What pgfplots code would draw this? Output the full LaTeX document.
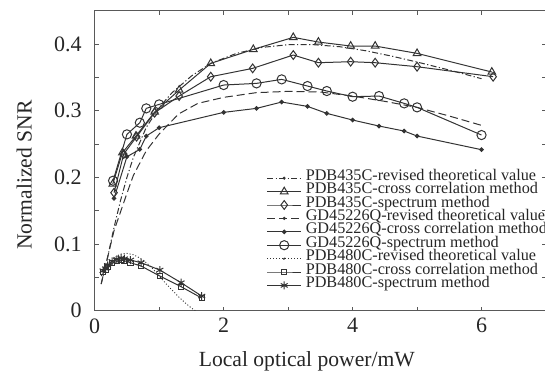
\documentclass[border=0pt]{standalone}
\usepackage{pgfplots}
\pgfplotsset{compat=1.18}
\usepackage{fontspec}
\setmainfont{Liberation Serif}
\definecolor{ln}{gray}{0.2}
\definecolor{ax}{gray}{0.35}
\pgfplotsset{theolegend/.style={legend image code/.code={\draw[##1] (0cm,0cm) -- (0.6cm,0cm); \fill[ln] (0.3cm,0cm) circle (0.5pt);}}}
\begin{document}
\begin{tikzpicture}
\begin{axis}[
  scale only axis, width=225.65pt, height=150pt,
  xmin=0, xmax=7, ymin=0, ymax=0.45,
  xtick={0,2,4,6}, minor xtick={1,3,5},
  ytick={0,0.1,0.2,0.3,0.4}, minor ytick={0.05,0.15,0.25,0.35},
  major tick length=2pt, minor tick length=2pt,
  tick style={ax, line width=0.5pt},
  every minor tick/.style={ax, line width=0.5pt},
  axis line style={ax, line width=0.6pt},
  /pgf/number format/assume math mode=true,
  yticklabel style={/pgf/number format/fixed, /pgf/number format/precision=1, inner sep=0pt, xshift=-6.35pt, anchor=east},
  xticklabel style={inner sep=0pt, yshift=-3.65pt, anchor=north},
  tick label style={font=\fontsize{11}{12}\selectfont, text=black!85},
  label style={font=\fontsize{10.8}{12}\selectfont, text=black!85},
  xlabel={Local optical power/mW},
  ylabel={Normalized SNR},
  xlabel style={at={(axis description cs:0.47,-0.1867)}, anchor=base, inner sep=0pt},
  ylabel style={at={(axis description cs:-0.1396,0.452)}, anchor=base, inner sep=0pt},
  legend style={at={(0.381,0.462)}, anchor=north west, draw=none, fill=none,
    inner sep=0pt, outer sep=0pt, row sep=0.6pt, column sep=2pt,
    font=\fontsize{8.1}{6}\selectfont, text=black!85,
    nodes={inner sep=0pt, text height=4.1pt, text depth=2pt}},
  legend cell align=left,
  every axis plot/.append style={line width=0.5pt, color=ln},
]
% PDB435C theory
\addplot[dash pattern=on 3pt off 1.2pt on 0.6pt off 1.2pt, no markers, theolegend] coordinates {
(0.1,0.04) (0.2,0.08) (0.3,0.125) (0.4,0.165) (0.5,0.20) (0.6,0.23) (0.8,0.275) (1.0,0.305) (1.2,0.327) (1.5,0.352) (1.8,0.371) (2.2,0.386) (2.6,0.395) (3.0,0.399) (3.4,0.399) (3.8,0.396) (4.2,0.39) (4.6,0.382) (5.0,0.373) (5.5,0.361) (6.0,0.348)};
\addlegendentry{PDB435C-revised theoretical value}
% PDB435C cross correlation
\addplot[solid, mark=triangle, mark size=2.2pt, mark options={solid, fill=white}] coordinates {
(0.28,0.19) (0.43,0.237) (0.64,0.262) (0.93,0.298) (1.31,0.331) (1.8,0.371) (2.46,0.392) (3.08,0.41) (3.47,0.403) (3.97,0.397) (4.35,0.397) (5.0,0.386) (6.16,0.358)};
\addlegendentry{PDB435C-cross correlation method}
% PDB435C spectrum
\addplot[solid, mark=diamond, mark size=2.2pt, mark options={solid, fill=white}] coordinates {
(0.30,0.177) (0.45,0.235) (0.65,0.261) (0.93,0.297) (1.31,0.322) (1.8,0.351) (2.45,0.3635) (3.08,0.3835) (3.47,0.372) (3.97,0.3735) (4.35,0.372) (5.0,0.366) (6.18,0.351)};
\addlegendentry{PDB435C-spectrum method}
% GD45226Q theory
\addplot[dash pattern=on 4pt off 2pt, no markers, theolegend] coordinates {
(0.1,0.04) (0.2,0.08) (0.3,0.12) (0.5,0.176) (0.6,0.203) (0.8,0.24) (1.0,0.265) (1.3,0.295) (1.6,0.311) (2.0,0.32) (2.5,0.327) (3.0,0.329) (3.5,0.328) (4.0,0.322) (4.5,0.314) (5.0,0.305) (5.5,0.292) (6.0,0.278)};
\addlegendentry{GD45226Q-revised theoretical value}
% GD45226Q cross correlation
\addplot[solid, mark=*, mark size=0.9pt, mark options={solid}] coordinates {
(0.30,0.1685) (0.50,0.231) (0.70,0.242) (0.80,0.262) (1.0,0.2745) (2.0,0.2975) (2.51,0.3035) (2.9,0.313) (3.3,0.3065) (3.6,0.296) (4.0,0.286) (4.41,0.277) (4.8,0.2695) (5.0,0.262) (6.0,0.2415)};
\addlegendentry{GD45226Q-cross correlation method}
% GD45226Q spectrum
\addplot[solid, mark=o, mark size=2.3pt, mark options={solid, fill=white}] coordinates {
(0.285,0.195) (0.50,0.2645) (0.70,0.282) (0.80,0.3035) (1.0,0.3095) (2.0,0.3385) (2.51,0.341) (2.9,0.347) (3.3,0.337) (3.6,0.3295) (4.0,0.321) (4.41,0.322) (4.8,0.311) (5.0,0.305) (6.0,0.2635)};
\addlegendentry{GD45226Q-spectrum method}
% PDB480C theory
\addplot[densely dotted, line width=0.45pt, no markers, theolegend] coordinates {
(0.1,0.052) (0.2,0.068) (0.3,0.079) (0.4,0.085) (0.5,0.086) (0.6,0.084) (0.7,0.079) (0.8,0.072) (0.9,0.063) (1.0,0.052) (1.1,0.041) (1.2,0.031) (1.3,0.021) (1.4,0.012) (1.5,0.004) (1.56,0.0)};
\addlegendentry{PDB480C-revised theoretical value}
% PDB480C cross correlation
\addplot[solid, mark=square, mark size=1.3pt, mark options={solid, fill=white}] coordinates {
(0.13,0.058) (0.17,0.061) (0.2,0.065) (0.27,0.071) (0.345,0.074) (0.41,0.076) (0.46,0.075) (0.555,0.072) (0.72,0.067) (1.01,0.052) (1.34,0.036) (1.66,0.019)};
\addlegendentry{PDB480C-cross correlation method}
% PDB480C spectrum
\addplot[solid, mark=asterisk, mark size=2pt, mark options={solid}] coordinates {
(0.13,0.06) (0.17,0.063) (0.2,0.068) (0.27,0.074) (0.345,0.077) (0.41,0.079) (0.46,0.078) (0.555,0.076) (0.72,0.072) (1.01,0.061) (1.34,0.042) (1.66,0.022)};
\addlegendentry{PDB480C-spectrum method}
\end{axis}
\pgfresetboundingbox
\path ([shift={(-47.35pt,-29.65pt)}]current axis.south west) rectangle ([shift={(-0.5pt,5.35pt)}]current axis.north east);
\end{tikzpicture}
\end{document}
